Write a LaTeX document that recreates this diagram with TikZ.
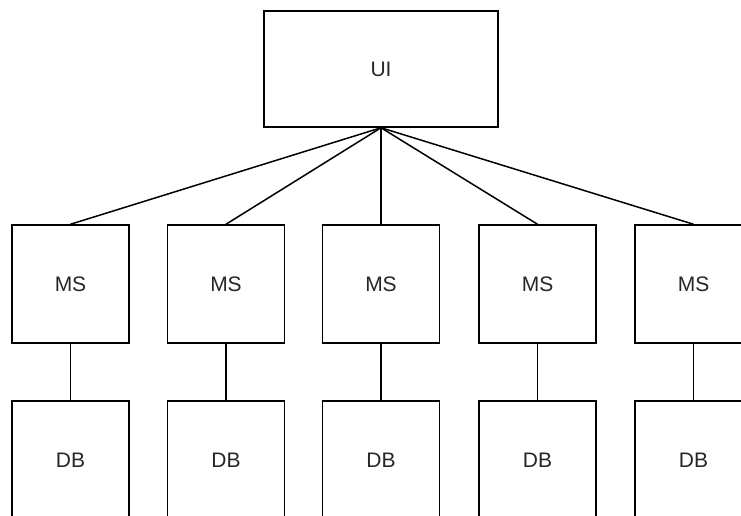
\documentclass[tikz,border=0pt]{standalone}
\usepackage{fontspec}
\setmainfont{Liberation Sans}

\begin{document}
\begin{tikzpicture}[x=1pt,y=-1pt,
        box/.style={draw, line width=1.5pt, minimum width=117pt, minimum height=118pt, inner sep=0pt, font=\fontsize{21}{25}\selectfont, text=black!85},
        link/.style={line width=1.5pt}]
        \clip (0,0) rectangle (741,515);
        \node[box, minimum width=234pt, minimum height=116pt] (UI) at (381, 69) {UI};
        \foreach \i/\x in {1/70.5, 2/226, 3/381, 4/537.5, 5/693.5} {
            \node[box] (MS\i) at (\x, 284) {MS};
            \node[box] (DB\i) at (\x, 460) {DB};
            \draw[link] (UI.south)--(MS\i.north);
            \draw[link] (MS\i)--(DB\i);
        }
\end{tikzpicture}
\end{document}
